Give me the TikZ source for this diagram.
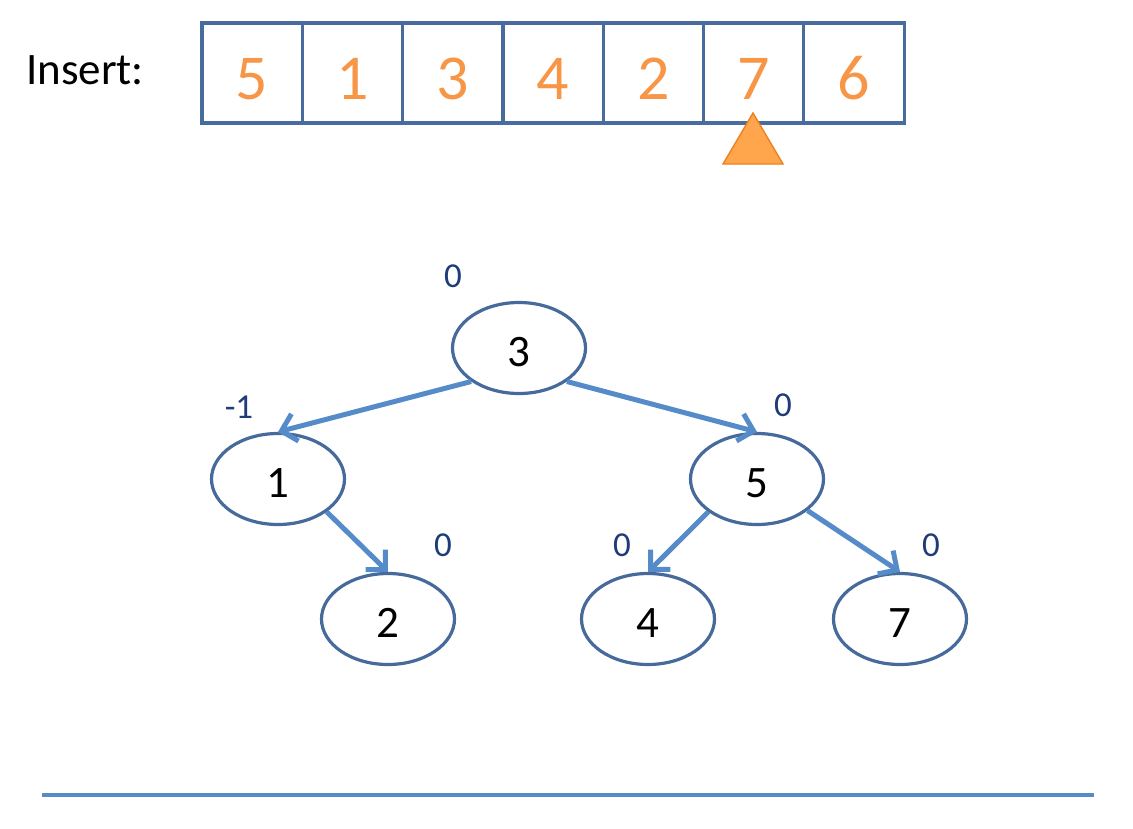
\documentclass[tikz,border=0pt]{standalone}
\usepackage{fontspec}
\setmainfont{Carlito}
\usetikzlibrary{shapes.geometric,arrows.meta}
\definecolor{arrblue}{RGB}{72,108,158}
\definecolor{ellblue}{RGB}{70,106,155}
\definecolor{edgeblue}{RGB}{86,139,202}
\definecolor{numorange}{RGB}{247,150,70}
\definecolor{trifill}{RGB}{255,165,75}
\definecolor{triline}{RGB}{235,130,30}
\definecolor{balblue}{RGB}{31,60,120}
\tikzset{
  cell/.style={draw=arrblue,line width=3.2pt,minimum width=100.3pt,minimum height=100pt,inner sep=0pt,
    text=numorange,font=\fontsize{64}{64}\selectfont,text height=52pt,text depth=0pt},
  tnode/.style={ellipse,draw=ellblue,line width=3.2pt,minimum width=133pt,minimum height=91pt,inner sep=0pt,
    font=\fontsize{45}{45}\selectfont,text height=36pt,text depth=0pt},
  edge/.style={draw=edgeblue,line width=5pt,-{Straight Barb[length=14pt,width=28pt]}},
  bal/.style={text=balblue,font=\fontsize{35}{35}\selectfont,inner sep=0pt}
}
\begin{document}
\begin{tikzpicture}[x=1pt,y=-1pt]
\useasboundingbox (0,0) rectangle (1133,828);
\node[anchor=base west,inner sep=0pt,font=\fontsize{45}{45}\selectfont] (ins) at (26,84) {Insert:};
\foreach \v [count=\i] in {5,1,3,4,2,7,6}{
  \node[cell] (c\i) at ({202+100.3*(\i-0.5)},73) {\v};
}
\filldraw[fill=trifill,draw=triline,line width=1.4pt,line join=miter] (753,113) -- (723,164) -- (783,164) -- cycle;
\node[tnode] (r) at (519,348) {3};
\node[tnode] (n1) at (278,479) {1};
\node[tnode] (n5) at (757,479) {5};
\node[tnode] (n2) at (388,619) {2};
\node[tnode] (n4) at (648,619) {4};
\node[tnode] (n7) at (900,619) {7};
\draw[edge] (r.-145) -- (n1.north);
\draw[edge] (r.-35) -- (n5.north);
\draw[edge] (n1.-34) -- (n2.north);
\draw[edge] (n5.-146) -- (n4.north);
\draw[edge] (n5.-32) -- (n7.north);
\node[bal] (b3) at (453,276) {0};
\node[bal] (b1) at (239,407) {-1};
\node[bal] (b5) at (783,405) {0};
\node[bal] (b2) at (443,545) {0};
\node[bal] (b4) at (622,545) {0};
\node[bal] (b7) at (931,545) {0};
\coordinate (la) at (42,795);
\coordinate (lb) at (1094,795);
\draw[edgeblue,line width=3.2pt] (la) -- (lb);
\end{tikzpicture}
\end{document}
